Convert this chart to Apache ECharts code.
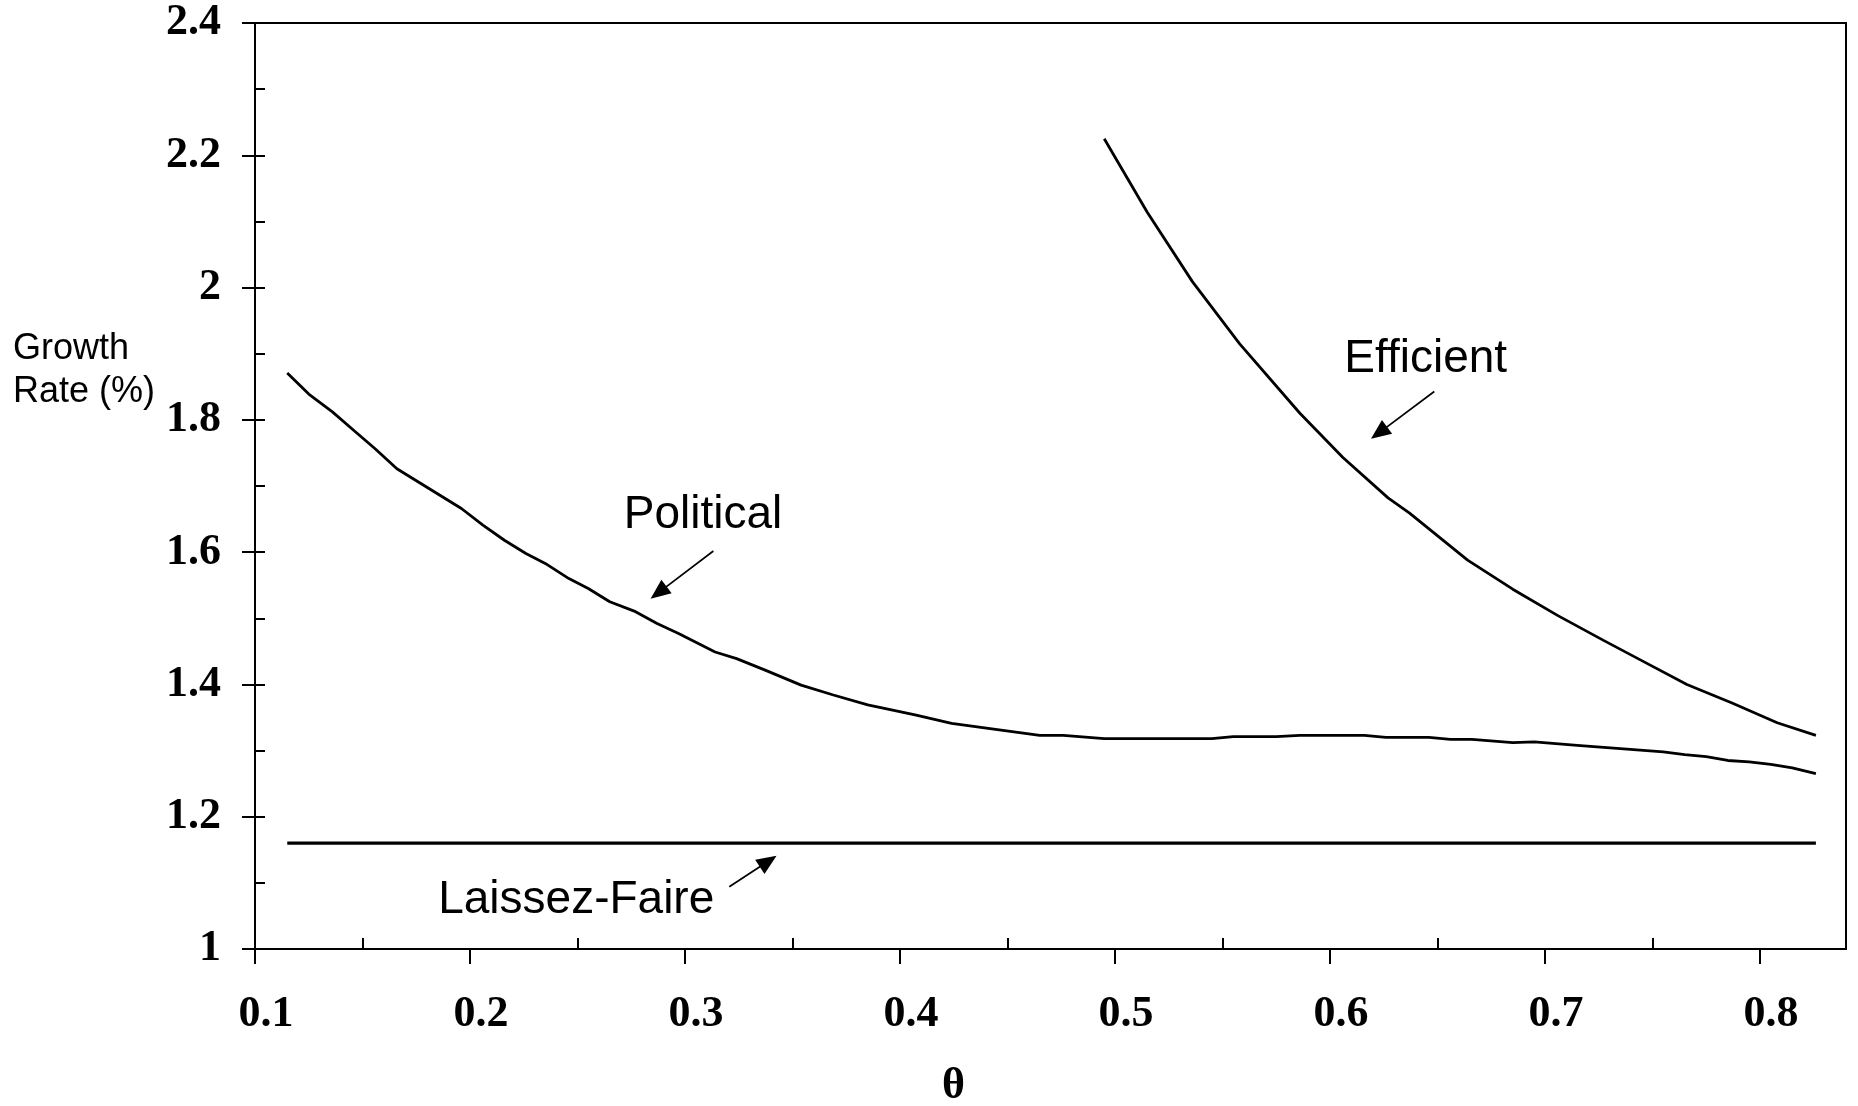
<!DOCTYPE html>
<html>
<head>
<meta charset="utf-8">
<script src="https://cdn.jsdelivr.net/npm/echarts@6/dist/echarts.min.js"></script>
<style>
html,body{margin:0;padding:0;background:#fff;}
#main{width:1858px;height:1106px;}
</style>
</head>
<body>
<div id="main"></div>
<script>
// data
const thetaPolitical = [0.115,0.125,0.136,0.146,0.156,0.166,0.176,0.186,0.196,0.206,0.216,0.226,0.235,0.246,0.255,0.265,0.277,0.287,0.297,0.314,0.324,0.337,0.354,0.369,0.385,0.407,0.424,0.447,0.465,0.476,0.495,0.545,0.555,0.575,0.586,0.616,0.626,0.646,0.656,0.666,0.685,0.695,0.715,0.735,0.755,0.765,0.775,0.785,0.795,0.805,0.815,0.826]
const growthPolitical = [1.871,1.839,1.812,1.784,1.756,1.726,1.706,1.686,1.666,1.641,1.618,1.598,1.583,1.560,1.545,1.525,1.510,1.492,1.477,1.449,1.439,1.422,1.399,1.384,1.369,1.354,1.341,1.331,1.323,1.323,1.318,1.318,1.321,1.321,1.323,1.323,1.320,1.320,1.317,1.317,1.312,1.313,1.308,1.303,1.298,1.294,1.291,1.285,1.283,1.279,1.274,1.265]

const thetaEfficient = [0.495,0.515,0.536,0.558,0.586,0.606,0.627,0.637,0.664,0.685,0.706,0.727,0.745,0.766,0.787,0.808,0.826]
const growthEfficient = [2.225,2.114,2.009,1.915,1.810,1.743,1.682,1.659,1.588,1.544,1.504,1.467,1.436,1.400,1.372,1.342,1.323]

const thetaLaissez = [0.115,0.826]
const growthLaissez = [1.16,1.16]

const xTicks = [0.1,0.2,0.3,0.4,0.5,0.6,0.7,0.8]
const xMinorTicks = [0.15,0.25,0.35,0.45,0.55,0.65,0.75]
const yTicks = [1,1.2,1.4,1.6,1.8,2,2.2,2.4]
const yAllTicks = [1,1.1,1.2,1.3,1.4,1.5,1.6,1.7,1.8,1.9,2,2.1,2.2,2.3,2.4]

// annotations: [label, labelPos, arrowTail, arrowHead]
const notePolitical = ['Political', [0.3084,1.6556], [0.3132,1.6017], [0.2877,1.5388]]
const noteEfficient = ['Efficient', [0.6445,1.892], [0.6485,1.8428], [0.6228,1.7804]]
const noteLaissez = ['Laissez-Faire', [0.2494,1.074], [0.3206,1.0941], [0.3387,1.1326]]

function pairs(xs,ys){
    let out = []
    for(let i=0;i<xs.length;i++){
        out.push([xs[i],ys[i]])
    }
    return out
}

function note(n){
    return {
        markPoint: {
            symbol: 'circle',
            symbolSize: 1,
            itemStyle: {color: 'rgba(0,0,0,0)'},
            label: {
                show: true,
                position: 'inside',
                formatter: n[0],
                color: '#000',
                fontFamily: 'Liberation Sans',
                fontSize: 46
            },
            data: [{coord: n[1]}]
        },
        markLine: {
            silent: true,
            symbol: ['none','triangle'],
            symbolSize: [17,20],
            lineStyle: {color:'#000', width:1.7, type:'solid'},
            label: {show:false},
            data: [[{coord:n[2]},{coord:n[3]}]]
        }
    }
}

const serifLabel = {
    fontFamily: 'Liberation Serif',
    fontWeight: 'bold',
    fontSize: 44,
    color: '#000'
}

var myChart = echarts.init(document.getElementById('main'))

var option = {
    animation: false,
    backgroundColor: '#fff',
    grid: {
        left: 255,
        right: 12,
        top: 23,
        bottom: 157,
        show: true,
        borderColor: '#000',
        borderWidth: 2
    },
    xAxis: [
        {
            type: 'value', min: 0.1, max: 0.84,
            axisLine: {lineStyle:{color:'#000', width:2}},
            axisTick: {inside:false, length:15, lineStyle:{color:'#000', width:2}, customValues: xTicks},
            axisLabel: Object.assign({margin: 44, padding:[0,0,0,22], customValues: xTicks}, serifLabel),
            splitLine: {show:false}
        },
        {
            type: 'value', min: 0.1, max: 0.84, position: 'bottom',
            axisLine: {show:false},
            axisTick: {inside:true, length:11, lineStyle:{color:'#000', width:2}, customValues: xMinorTicks},
            axisLabel: {show:false},
            splitLine: {show:false}
        }
    ],
    yAxis: [
        {
            type: 'value', min: 1, max: 2.4,
            axisLine: {show:true, lineStyle:{color:'#000', width:2}},
            axisTick: {show:true, inside:false, length:13, lineStyle:{color:'#000', width:2}, customValues: yTicks},
            axisLabel: Object.assign({margin: 34, customValues: yTicks}, serifLabel),
            splitLine: {show:false}
        },
        {
            type: 'value', min: 1, max: 2.4, position: 'left',
            axisLine: {show:false},
            axisTick: {show:true, inside:true, length:10, lineStyle:{color:'#000', width:2}, customValues: yAllTicks},
            axisLabel: {show:false},
            splitLine: {show:false}
        }
    ],
    graphic: [
        {type:'text', left:13, top:331, style:{text:'Growth', font:'36px "Liberation Sans"', fill:'#000'}},
        {type:'text', left:13, top:374, style:{text:'Rate (%)', font:'36px "Liberation Sans"', fill:'#000'}},
        {type:'text', left:942, top:1065, style:{text:'θ', font:'bold 44px "Liberation Serif"', fill:'#000'}}
    ],
    series: [
        Object.assign({
            name: 'Political', type: 'line', showSymbol: false, symbol: 'none',
            lineStyle: {color:'#000', width:2.8},
            data: pairs(thetaPolitical, growthPolitical)
        }, note(notePolitical)),
        Object.assign({
            name: 'Efficient', type: 'line', showSymbol: false, symbol: 'none',
            lineStyle: {color:'#000', width:2.8},
            data: pairs(thetaEfficient, growthEfficient)
        }, note(noteEfficient)),
        Object.assign({
            name: 'Laissez-Faire', type: 'line', showSymbol: false, symbol: 'none',
            lineStyle: {color:'#000', width:3.2},
            data: pairs(thetaLaissez, growthLaissez)
        }, note(noteLaissez))
    ]
}

myChart.setOption(option)
</script>
</body>
</html>
